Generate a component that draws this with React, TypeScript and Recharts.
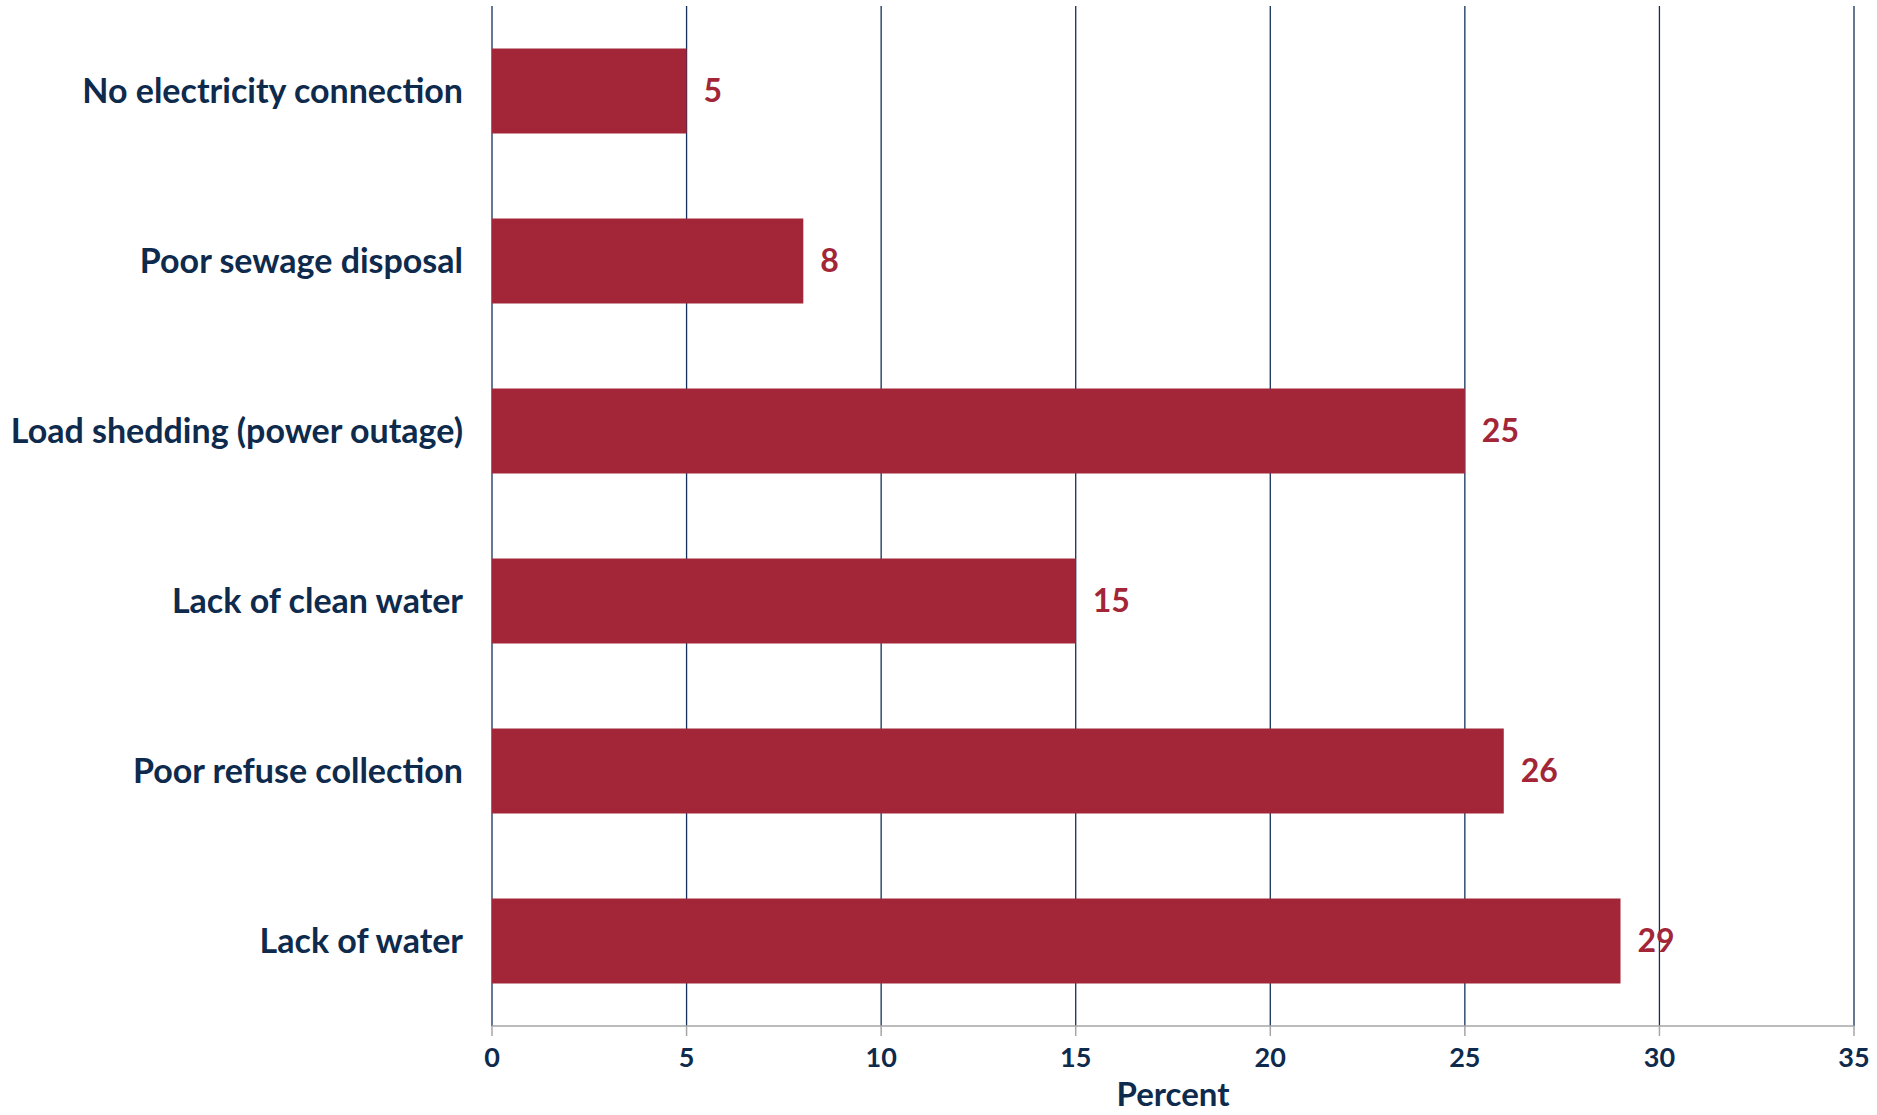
import React from 'react';
import {
  BarChart,
  Bar,
  XAxis,
  YAxis,
  CartesianGrid,
  LabelList,
} from 'recharts';

const categories = [
  'No electricity connection',
  'Poor sewage disposal',
  'Load shedding (power outage)',
  'Lack of clean water',
  'Poor refuse collection',
  'Lack of water',
];
const percentValues = [5, 8, 25, 15, 26, 29];
const xTicks = [0, 5, 10, 15, 20, 25, 30, 35];
// boundaries between category bands, for the small tick marks on the left axis
const bandEdges = [0, 1, 2, 3, 4, 5, 6];

const NAVY = '#0e2a4c';
const GRID = '#14305a';
const AXIS_GREY = '#a6a6a6';
const BAR_RED = '#a22638';
const FONT = 'Lato, "DejaVu Sans", sans-serif';

const data = categories.map((name, i) => ({ name, value: percentValues[i] }));

export default function App() {
  return (
    <div style={{ position: 'absolute', left: 0, top: 0, background: '#fff' }}>
      <BarChart
        width={1877}
        height={1115}
        data={data}
        layout="vertical"
        barCategoryGap="25%"
        margin={{ top: 6, right: 23, left: 0, bottom: 0 }}
      >
        <CartesianGrid horizontal={false} stroke={GRID} strokeWidth={1.3} />
        <YAxis
          yAxisId="edge"
          type="number"
          domain={[0, 6]}
          ticks={bandEdges}
          width={0}
          axisLine={{ stroke: AXIS_GREY, strokeWidth: 1.5 }}
          tickLine={{ stroke: AXIS_GREY, strokeWidth: 1.5 }}
          tickSize={10}
          tickFormatter={() => ''}
        />
        <YAxis
          type="category"
          dataKey="name"
          width={492}
          axisLine={false}
          tickLine={false}
          tickSize={0}
          tickMargin={29}
          tick={{ fontSize: 34, fontWeight: 700, fill: NAVY, fontFamily: FONT }}
        />
        <XAxis
          type="number"
          domain={[0, 35]}
          ticks={xTicks}
          height={89}
          axisLine={{ stroke: AXIS_GREY, strokeWidth: 1.5 }}
          tickLine={{ stroke: AXIS_GREY, strokeWidth: 1.5 }}
          tickSize={10}
          tickMargin={12}
          tick={{ fontSize: 27, fontWeight: 700, fill: NAVY, fontFamily: FONT }}
          label={{
            value: 'Percent',
            position: 'insideBottom',
            offset: 9,
            style: { fontSize: 33, fontWeight: 700, fill: NAVY, fontFamily: FONT },
          }}
        />
        <Bar dataKey="value" fill={BAR_RED} isAnimationActive={false}>
          <LabelList
            dataKey="value"
            position="right"
            offset={17}
            style={{ fontSize: 32, fontWeight: 700, fill: BAR_RED, fontFamily: FONT }}
          />
        </Bar>
      </BarChart>
    </div>
  );
}
